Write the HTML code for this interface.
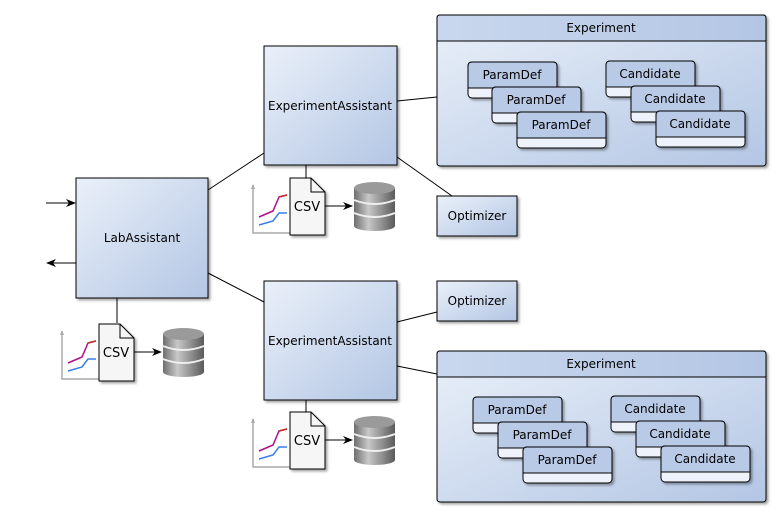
<!DOCTYPE html>
<html><head><meta charset="utf-8"><style>
html,body{margin:0;padding:0;background:#fff}
svg{display:block;font-family:"DejaVu Sans","Liberation Sans",sans-serif}
</style></head><body>
<svg width="781" height="518" viewBox="0 0 781 518" xmlns="http://www.w3.org/2000/svg">
<defs>
<linearGradient id="g" x1="0" y1="0" x2="1" y2="1"><stop offset="0" stop-color="#eaf0f9"/><stop offset="1" stop-color="#b3c6e4"/></linearGradient>
<linearGradient id="gh" x1="0" y1="0" x2="1" y2="0"><stop offset="0" stop-color="#c9d7ee"/><stop offset="1" stop-color="#b3c6e4"/></linearGradient>
<linearGradient id="db" x1="0" y1="0" x2="1" y2="0"><stop offset="0" stop-color="#6e6e6e"/><stop offset="0.35" stop-color="#c8c8c8"/><stop offset="1" stop-color="#5a5a5a"/></linearGradient>
<filter id="sh" x="-10%" y="-10%" width="130%" height="130%"><feDropShadow dx="2" dy="2" stdDeviation="1.2" flood-color="#000" flood-opacity="0.35"/></filter>
<marker id="ar" markerWidth="10" markerHeight="8" refX="9" refY="4" orient="auto" markerUnits="userSpaceOnUse"><path d="M0,0 L10,4 L0,8 L3,4 z" fill="#000"/></marker>
<g id="csv">
  <path d="M0,4 V52 H46" fill="none" stroke="#aaa" stroke-width="1.5"/>
  <path d="M-2,8 L0,3 L2,8" fill="#aaa"/>
  <path d="M6,36 L20,30 L26,16 L34,14" fill="none" stroke="#b0108a" stroke-width="1.5"/>
  <path d="M26,16 L34,14" fill="none" stroke="#c03020" stroke-width="1.5"/>
  <path d="M6,44 L20,40 L26,32 L34,32" fill="none" stroke="#3a7ee8" stroke-width="1.5"/>
  <path d="M37,-3 H58 L72,11 V54 H37 Z" fill="#f6f6f6" stroke="#000" stroke-width="1" filter="url(#sh)"/>
  <path d="M58,-3 V11 H72" fill="none" stroke="#000"/>
  <text x="54" y="30" font-size="13" text-anchor="middle">CSV</text>
  <line x1="72" y1="25" x2="99" y2="25" stroke="#000" marker-end="url(#ar)"/>
  <g transform="translate(101,1)">
    <rect x="0" y="6" width="41" height="38" fill="url(#db)"/>
    <ellipse cx="20.5" cy="44" rx="20.5" ry="5" fill="url(#db)"/>
    <ellipse cx="20.5" cy="6" rx="20.5" ry="6" fill="#9a9a9a"/>
    <path d="M0,18 Q20.5,26 41,18" fill="none" stroke="#eee" stroke-width="2"/>
    <path d="M0,31 Q20.5,39 41,31" fill="none" stroke="#eee" stroke-width="2"/>
  </g>
</g>
<g id="pd">
  <rect x="0" y="0" width="89" height="36" rx="4" fill="#eef2fa" stroke="#000" filter="url(#sh)"/>
  <path d="M4,0 H85 Q89,0 89,4 V26 H0 V4 Q0,0 4,0 Z" fill="#b9cae6" stroke="#000"/>
</g>
</defs>

<g stroke="#000" stroke-width="1" fill="none">
<line x1="208" y1="190" x2="264" y2="153"/>
<line x1="208" y1="273" x2="264" y2="302"/>
<line x1="397" y1="101" x2="437" y2="97"/>
<line x1="397" y1="157" x2="452" y2="196"/>
<line x1="397" y1="322" x2="437" y2="312"/>
<line x1="397" y1="366" x2="437" y2="374"/>
<line x1="117" y1="298" x2="117" y2="323"/>
<line x1="306" y1="165" x2="306" y2="178"/>
<line x1="306" y1="400" x2="306" y2="412"/>
<line x1="46" y1="203" x2="75" y2="203" marker-end="url(#ar)"/>
<line x1="76" y1="263" x2="47" y2="263" marker-end="url(#ar)"/>
</g>

<g font-size="12" text-anchor="middle">
<rect x="76" y="178" width="132" height="120" fill="url(#g)" stroke="#000" filter="url(#sh)"/>
<text x="142" y="242">LabAssistant</text>
<rect x="264" y="46" width="133" height="119" fill="url(#g)" stroke="#000" filter="url(#sh)"/>
<text x="330" y="110">ExperimentAssistant</text>
<rect x="264" y="281" width="133" height="119" fill="url(#g)" stroke="#000" filter="url(#sh)"/>
<text x="330" y="345">ExperimentAssistant</text>

<rect x="437" y="196" width="80" height="40" fill="url(#g)" stroke="#000" filter="url(#sh)"/>
<text x="477" y="220">Optimizer</text>
<rect x="437" y="281" width="80" height="40" fill="url(#g)" stroke="#000" filter="url(#sh)"/>
<text x="477" y="305">Optimizer</text>

<rect x="437" y="15" width="329" height="151" rx="3" fill="url(#g)" stroke="#000" filter="url(#sh)"/>
<path d="M440,15 H763 Q766,15 766,18 V41 H437 V18 Q437,15 440,15 Z" fill="url(#gh)" stroke="#000"/>
<text x="601" y="32">Experiment</text>
<use href="#pd" x="468" y="62"/><text x="512" y="79">ParamDef</text>
<use href="#pd" x="492" y="87"/><text x="536" y="104">ParamDef</text>
<use href="#pd" x="517" y="112"/><text x="561" y="129">ParamDef</text>
<use href="#pd" x="606" y="61"/><text x="650" y="78">Candidate</text>
<use href="#pd" x="631" y="86"/><text x="675" y="103">Candidate</text>
<use href="#pd" x="656" y="111"/><text x="700" y="128">Candidate</text>

<rect x="437" y="351" width="329" height="151" rx="3" fill="url(#g)" stroke="#000" filter="url(#sh)"/>
<path d="M440,351 H763 Q766,351 766,354 V377 H437 V354 Q437,351 440,351 Z" fill="url(#gh)" stroke="#000"/>
<text x="601" y="368">Experiment</text>
<use href="#pd" x="473" y="397"/><text x="517" y="414">ParamDef</text>
<use href="#pd" x="498" y="422"/><text x="542" y="439">ParamDef</text>
<use href="#pd" x="523" y="447"/><text x="567" y="464">ParamDef</text>
<use href="#pd" x="611" y="396"/><text x="655" y="413">Candidate</text>
<use href="#pd" x="636" y="421"/><text x="680" y="438">Candidate</text>
<use href="#pd" x="661" y="446"/><text x="705" y="463">Candidate</text>
</g>

<use href="#csv" x="62" y="327"/>
<use href="#csv" x="253" y="181"/>
<use href="#csv" x="253" y="415"/>
</svg>
</body></html>
